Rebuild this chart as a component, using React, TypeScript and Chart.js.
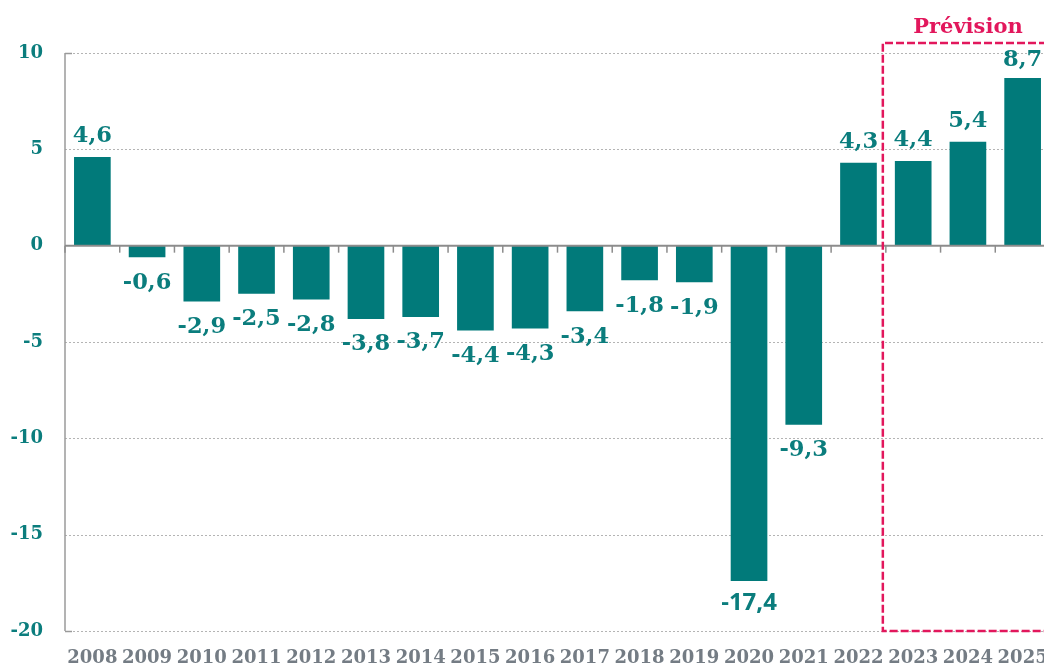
import React, { useEffect, useRef } from "react";
import { Chart, registerables } from "chart.js";

Chart.register(...registerables);

const years = ["2008", "2009", "2010", "2011", "2012", "2013", "2014", "2015", "2016", "2017", "2018", "2019", "2020", "2021", "2022", "2023", "2024", "2025"];
const values = [4.6, -0.6, -2.9, -2.5, -2.8, -3.8, -3.7, -4.4, -4.3, -3.4, -1.8, -1.9, -17.4, -9.3, 4.3, 4.4, 5.4, 8.7];
const yTicks = [10, 5, 0, -5, -10, -15, -20];
const forecastYears = ["2023", "2024", "2025"];
const forecastLabel = "Prévision";

const TEAL = "#017a7a";
const LABEL_TEAL = "#0b7d7d";
const GRAY_TEXT = "#747c84";
const CRIMSON = "#e2175c";
const SERIF = "'DejaVu Serif', serif";
const SANS = "'Open Sans', sans-serif";
const sansLabelYears = new Set(["2020"]);

const fmt = (v: number) => v.toFixed(1).replace(".", ",");

const decorPlugin = {
  id: "decor",
  beforeDatasetsDraw(chart: any) {
    const { ctx, chartArea } = chart;
    const y = chart.scales.y;
    ctx.save();
    ctx.strokeStyle = "#b4b4b4";
    ctx.lineWidth = 1;
    ctx.setLineDash([2, 2]);
    yTicks.forEach((v) => {
      if (v === 0) return;
      const py = Math.round(y.getPixelForValue(v)) + 0.5;
      ctx.beginPath();
      ctx.moveTo(chartArea.left, py);
      ctx.lineTo(chartArea.right, py);
      ctx.stroke();
    });
    ctx.setLineDash([]);
    ctx.strokeStyle = "#9a9a9a";
    ctx.lineWidth = 1.5;
    ctx.beginPath();
    ctx.moveTo(chartArea.left, chartArea.top);
    ctx.lineTo(chartArea.left, chartArea.bottom);
    ctx.stroke();
    [yTicks[0], yTicks[yTicks.length - 1]].forEach((v) => {
      const py = Math.round(y.getPixelForValue(v)) + 0.5;
      ctx.beginPath();
      ctx.moveTo(chartArea.left, py);
      ctx.lineTo(chartArea.left + 7, py);
      ctx.stroke();
    });
    ctx.restore();
  },
  afterDatasetsDraw(chart: any) {
    const { ctx, chartArea } = chart;
    const x = chart.scales.x;
    const y = chart.scales.y;
    const n = years.length;
    const cw = (x.right - x.left) / n;
    const y0 = y.getPixelForValue(0);
    ctx.save();
    ctx.strokeStyle = "#8c8c8c";
    ctx.lineWidth = 2;
    ctx.beginPath();
    ctx.moveTo(chartArea.left, y0);
    ctx.lineTo(chartArea.right, y0);
    ctx.stroke();
    ctx.lineWidth = 1.5;
    for (let i = 0; i <= n; i++) {
      const px = x.left + i * cw;
      ctx.beginPath();
      ctx.moveTo(px, y0);
      ctx.lineTo(px, y0 + 7);
      ctx.stroke();
    }
    const meta = chart.getDatasetMeta(0);
    ctx.fillStyle = LABEL_TEAL;
    ctx.textAlign = "center";
    ctx.textBaseline = "alphabetic";
    meta.data.forEach((bar: any, i: number) => {
      const v = values[i];
      const sans = sansLabelYears.has(years[i]);
      const size = sans ? 24 : 22.5;
      ctx.font = `bold ${size}px ${sans ? SANS : SERIF}`;
      const capH = size * (sans ? 0.714 : 0.73);
      let base;
      if (v >= 0) {
        base = bar.y - 15;
        if (base - capH < 50) base = 50 + capH;
      } else {
        base = bar.y + (sans ? 12 : 15) + capH;
      }
      ctx.fillText(fmt(v), bar.x, base);
    });
    const i0 = years.indexOf(forecastYears[0]);
    const iMid = years.indexOf(forecastYears[1]);
    const left = x.left + i0 * cw - 3;
    const top = y.getPixelForValue(yTicks[0]) - 10;
    const bottom = y.getPixelForValue(yTicks[yTicks.length - 1]);
    ctx.strokeStyle = CRIMSON;
    ctx.lineWidth = 2.5;
    ctx.setLineDash([8, 3]);
    ctx.beginPath();
    ctx.moveTo(chart.width + 20, top);
    ctx.lineTo(left, top);
    ctx.lineTo(left, bottom);
    ctx.lineTo(chart.width + 20, bottom);
    ctx.stroke();
    ctx.setLineDash([]);
    ctx.fillStyle = CRIMSON;
    ctx.font = `bold 21px ${SERIF}`;
    ctx.textAlign = "center";
    ctx.fillText(forecastLabel, x.getPixelForValue(iMid), top - 10);
    ctx.restore();
  },
};

export default function App() {
  const ref = useRef<HTMLCanvasElement | null>(null);
  useEffect(() => {
    if (!ref.current) return;
    const chart = new Chart(ref.current, {
      type: "bar",
      data: {
        labels: years,
        datasets: [
          {
            data: values,
            backgroundColor: TEAL,
            borderWidth: 0,
            barPercentage: 0.67,
            categoryPercentage: 1,
          },
        ],
      },
      options: {
        animation: false,
        responsive: false,
        devicePixelRatio: 1,
        layout: { padding: { top: 53, right: 10, left: 0, bottom: 0 } },
        plugins: { legend: { display: false }, tooltip: { enabled: false } },
        scales: {
          x: {
            grid: { display: false, drawTicks: false },
            border: { display: false },
            ticks: {
              color: GRAY_TEXT,
              font: { family: SERIF, weight: "bold", size: 18 },
              padding: 17,
              autoSkip: false,
              maxRotation: 0,
              minRotation: 0,
            },
            afterFit: (s: any) => {
              s.height = 37;
              s.paddingLeft = 0;
              s.paddingRight = 0;
            },
          },
          y: {
            min: -20,
            max: 10,
            grid: { display: false, drawTicks: false },
            border: { display: false },
            ticks: {
              stepSize: 5,
              color: LABEL_TEAL,
              font: { family: SERIF, weight: "bold", size: 18 },
              padding: 22,
            },
            afterFit: (s: any) => {
              s.width = 65;
            },
          },
        },
      },
      plugins: [decorPlugin],
    } as any);
    return () => chart.destroy();
  }, []);
  return (
    <div style={{ position: "absolute", left: 0, top: 0, width: 1044, height: 668, overflow: "hidden", background: "#fff" }}>
      <canvas ref={ref} width={1060} height={668} style={{ display: "block", width: 1060, height: 668 }} />
    </div>
  );
}
